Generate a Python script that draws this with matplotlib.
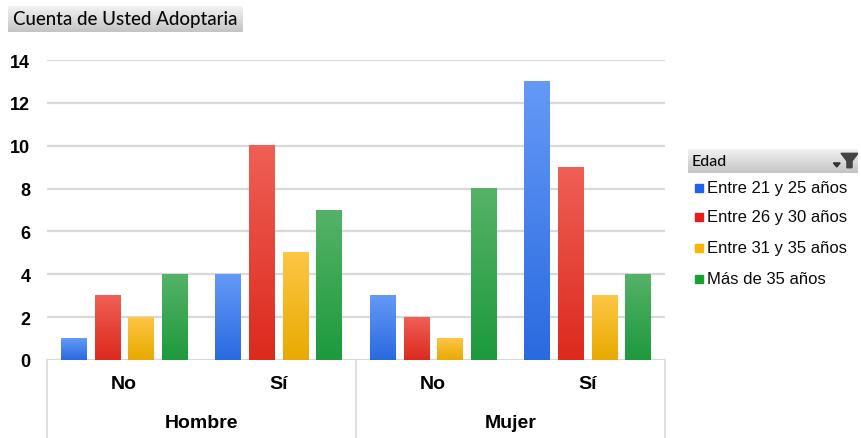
import numpy as np
import matplotlib
matplotlib.use("Agg")
import matplotlib.pyplot as plt
from matplotlib.colors import LinearSegmentedColormap
from matplotlib.patches import Rectangle, Polygon

plt.rcParams["font.family"] = ["Liberation Sans", "DejaVu Sans"]

# pivot counts: sexo / adoptaria / grupo de edad
groups = ["Hombre", "Mujer"]
answers = ["No", "Sí"]
series = ["Entre 21 y 25 años", "Entre 26 y 30 años", "Entre 31 y 35 años", "Más de 35 años"]
counts = [
    [1, 4, 3, 13],   # 21-25
    [3, 10, 2, 9],   # 26-30
    [2, 5, 1, 3],    # 31-35
    [4, 7, 8, 4],    # >35
]
yticks = [0, 2, 4, 6, 8, 10, 12, 14]

# (top, bottom) gradient for the bars, solid colour for the legend keys
bar_grad = [("#6499f6", "#2a6ae0"), ("#ef5f55", "#dc2a1e"),
            ("#fdc645", "#e8aa00"), ("#55b267", "#1d9a3d")]
key_colors = ["#1f62f0", "#e81a1a", "#ffb400", "#18a030"]

W, H = 862, 439
fig = plt.figure(figsize=(W / 100, H / 100), dpi=100)
ax = fig.add_axes([47 / W, 1 - 361 / H, (665 - 47) / W, 300 / H])

n_cat = len(groups) * len(answers)
bar_w = 0.168
step = 0.217
for k in range(len(series)):
    cmap = LinearSegmentedColormap.from_list("g%d" % k, [bar_grad[k][1], bar_grad[k][0]])
    for c in range(n_cat):
        v = counts[k][c]
        x0 = c + 0.5 + (k - 1.5) * step - bar_w / 2
        grad = np.linspace(0, 1, 64).reshape(-1, 1)
        ax.imshow(grad, cmap=cmap, origin="lower", aspect="auto",
                  extent=[x0, x0 + bar_w, 0, v], zorder=3, interpolation="bilinear")

ax.set_xlim(0, n_cat)
ax.set_ylim(0, 14)
ax.set_yticks(yticks)
ax.set_yticklabels([str(t) for t in yticks], fontsize=13, fontweight="bold")
ax.tick_params(axis="y", length=0, pad=12)
ax.set_xticks([])
ax.grid(axis="y", color="#d9d9d9", lw=1.6)
ax.set_axisbelow(True)
for s in ax.spines.values():
    s.set_visible(False)

# two-level category axis
xt = ax.get_xaxis_transform()
for c in range(n_cat):
    ax.text(c + 0.5, -0.08, answers[c % 2], transform=xt, ha="center", va="center",
            fontsize=14, fontweight="bold")
for g, name in enumerate(groups):
    ax.text(g * 2 + 1, -0.21, name, transform=xt, ha="center", va="center",
            fontsize=14, fontweight="bold")
for xb in range(0, n_cat + 1, 2):
    ax.plot([xb, xb], [0, -0.27], transform=xt, color="#d9d9d9", lw=1.2, clip_on=False)

# grey header buttons (field list style)
hdr_cmap = LinearSegmentedColormap.from_list("hdr", ["#c4c4c4", "#f2f2f2"])


def header(x0, y0, x1, y1, label, size):
    hax = fig.add_axes([x0 / W, 1 - y1 / H, (x1 - x0) / W, (y1 - y0) / H])
    hax.imshow(np.linspace(0, 1, 32).reshape(-1, 1), cmap=hdr_cmap, origin="lower",
               aspect="auto", extent=[0, 1, 0, 1])
    hax.set_xlim(0, 1)
    hax.set_ylim(0, 1)
    hax.axis("off")
    hax.text(0.02, 0.5, label, ha="left", va="center", fontsize=size,
             family=["Lato", "DejaVu Sans"], color="#0a0a0a", fontweight="medium")
    return hax


header(8, 7, 243, 33, "Cuenta de Usted Adoptaria", 13.5)
lax = header(688, 150, 858, 174, "Edad", 11.5)
# filter glyph on the legend header
lax.add_patch(Polygon([[0.855, 0.42], [0.895, 0.42], [0.875, 0.25]], closed=True,
                      color="#333333"))
lax.add_patch(Polygon([[0.90, 0.82], [1.0, 0.82], [0.965, 0.5], [0.965, 0.22],
                       [0.935, 0.22], [0.935, 0.5]], closed=True, color="#444444"))

entry_y = [189, 218, 249, 280]
for k, name in enumerate(series):
    fig.patches.append(Rectangle((695 / W, 1 - (entry_y[k] + 4) / H), 8 / W, 8 / H,
                                 transform=fig.transFigure, color=key_colors[k]))
    fig.text(707 / W, 1 - entry_y[k] / H, name, ha="left", va="center", fontsize=12,
             color="#0a0a0a")

fig.savefig("out.png", dpi=100)
